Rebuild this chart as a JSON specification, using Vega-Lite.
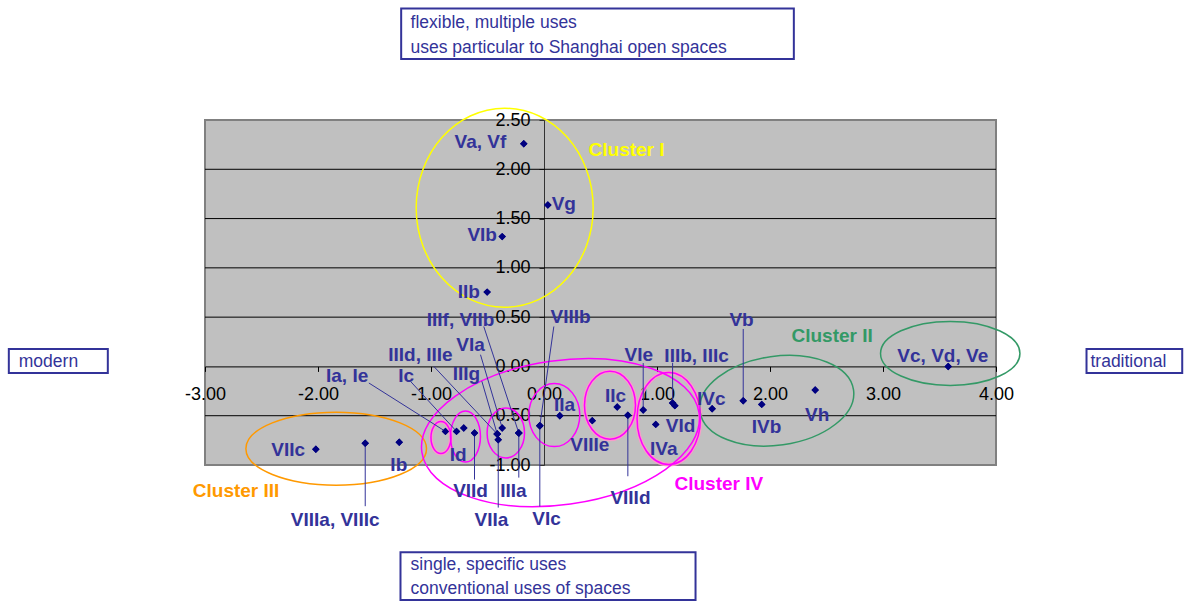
{
  "$schema": "https://vega.github.io/schema/vega-lite/v6.json",
  "width": 791,
  "height": 345,
  "autosize": "none",
  "padding": {"left": 205, "top": 120, "right": 188, "bottom": 137},
  "background": "white",
  "config": {
    "view": {"fill": "#c0c0c0", "stroke": "#808080", "strokeWidth": 2},
    "font": "Liberation Sans"
  },
  "datasets": {
    "points": [
      {"code": "Va, Vf", "x": -0.179, "y": 2.259, "lx": -0.562, "ly": 2.280},
      {"code": "Vg", "x": 0.034, "y": 1.638, "lx": 0.175, "ly": 1.648},
      {"code": "VIb", "x": -0.370, "y": 1.317, "lx": -0.547, "ly": 1.334},
      {"code": "IIb", "x": -0.503, "y": 0.754, "lx": -0.665, "ly": 0.760},
      {"code": "Vc, Vd, Ve", "x": 3.577, "y": 0.0, "lx": 3.529, "ly": 0.108},
      {"code": "Vh", "x": 2.400, "y": -0.239, "lx": 2.418, "ly": -0.489},
      {"code": "Vb", "x": 1.763, "y": -0.348, "lx": 1.748, "ly": 0.473, "ex": 1.763, "ey": 0.38},
      {"code": "IVb", "x": 1.927, "y": -0.385, "lx": 1.969, "ly": -0.614},
      {"code": "IVc", "x": 1.488, "y": -0.429, "lx": 1.480, "ly": -0.327},
      {"code": "IIIb, IIIc", "x": 1.138, "y": -0.371, "lx": 1.350, "ly": 0.108, "ex": 1.138, "ey": 0.037},
      {"code": "VId", "x": 1.158, "y": -0.398, "lx": 1.208, "ly": -0.608},
      {"code": "IVa", "x": 0.989, "y": -0.588, "lx": 1.060, "ly": -0.834},
      {"code": "VIe", "x": 0.878, "y": -0.442, "lx": 0.839, "ly": 0.119, "ex": 0.878, "ey": 0.034},
      {"code": "VIIId", "x": 0.742, "y": -0.496, "lx": 0.765, "ly": -1.333, "ex": 0.742, "ey": -1.114},
      {"code": "IIc", "x": 0.648, "y": -0.411, "lx": 0.633, "ly": -0.297},
      {"code": "VIIIe", "x": 0.427, "y": -0.550, "lx": 0.405, "ly": -0.793},
      {"code": "IIa", "x": 0.140, "y": -0.500, "lx": 0.181, "ly": -0.388},
      {"code": "VIIIb", "x": -0.037, "y": -0.601, "lx": 0.235, "ly": 0.501, "ex": 0.087, "ey": 0.405},
      {"code": "VIc", "x": -0.037, "y": -0.601, "lx": 0.022, "ly": -1.543, "ex": -0.037, "ey": -1.421},
      {"code": "IIIf, VIIb", "x": -0.223, "y": -0.675, "lx": -0.739, "ly": 0.466, "ex": -0.533, "ey": 0.405},
      {"code": "IIIa", "x": -0.223, "y": -0.675, "lx": -0.270, "ly": -1.259, "ex": -0.223, "ey": -1.128},
      {"code": "VIa", "x": -0.370, "y": -0.624, "lx": -0.650, "ly": 0.220, "ex": -0.562, "ey": 0.119},
      {"code": "IIIg", "x": -0.414, "y": -0.685, "lx": -0.686, "ly": -0.074, "ex": -0.55, "ey": -0.15},
      {"code": "VIIa", "x": -0.405, "y": -0.743, "lx": -0.465, "ly": -1.553, "ex": -0.405, "ey": -1.432},
      {"code": "IIId, IIIe", "x": -0.414, "y": -0.685, "lx": -1.093, "ly": 0.119, "ex": -0.975, "ey": 0.0},
      {"code": "VIId", "x": -0.615, "y": -0.675, "lx": -0.650, "ly": -1.259, "ex": -0.615, "ey": -1.148},
      {"code": "Id", "x": -0.710, "y": -0.624, "lx": -0.759, "ly": -0.895},
      {"code": "Ic", "x": -0.774, "y": -0.659, "lx": -1.219, "ly": -0.094, "ex": -1.181, "ey": -0.152},
      {"code": "Ia, Ie", "x": -0.872, "y": -0.659, "lx": -1.742, "ly": -0.094, "ex": -1.550, "ey": -0.168},
      {"code": "Ib", "x": -1.281, "y": -0.770, "lx": -1.285, "ly": -0.996},
      {"code": "VIIIa, VIIIc", "x": -1.582, "y": -0.780, "lx": -1.848, "ly": -1.563, "ex": -1.582, "ey": -1.418},
      {"code": "VIIc", "x": -2.019, "y": -0.841, "lx": -2.264, "ly": -0.851}
    ],
    "grid": [{"g": -0.5}, {"g": 0.5}, {"g": 1.0}, {"g": 1.5}, {"g": 2.0}],
    "ellipses": [
      {"id": "e1", "cluster": "I", "x": -0.348, "y": 1.610},
      {"id": "e2", "cluster": "II", "x": 3.595, "y": 0.132},
      {"id": "e3", "cluster": "II", "x": 2.060, "y": -0.348},
      {"id": "e4", "cluster": "III", "x": -1.839, "y": -0.834},
      {"id": "e5", "cluster": "IV", "x": 0.146, "y": -0.672},
      {"id": "e6", "cluster": "IV", "x": -0.912, "y": -0.722},
      {"id": "e7", "cluster": "IV", "x": -0.695, "y": -0.712},
      {"id": "e8", "cluster": "IV", "x": -0.338, "y": -0.675},
      {"id": "e9", "cluster": "IV", "x": 0.091, "y": -0.494},
      {"id": "e10", "cluster": "IV", "x": 0.584, "y": -0.393},
      {"id": "e11", "cluster": "IV", "x": 1.104, "y": -0.528}
    ],
    "clusters": [
      {"name": "Cluster I", "cluster": "I", "x": 0.394, "y": 2.193},
      {"name": "Cluster II", "cluster": "II", "x": 2.190, "y": 0.304},
      {"name": "Cluster III", "cluster": "III", "x": -3.108, "y": -1.266},
      {"name": "Cluster IV", "cluster": "IV", "x": 1.155, "y": -1.192}
    ],
    "boxes": [
      {"x": -1.264, "x2": 2.211, "y": 3.631, "y2": 3.118},
      {"x": -1.270, "x2": 1.341, "y": -1.885, "y2": -2.369},
      {"x": -4.736, "x2": -3.860, "y": 0.176, "y2": -0.067},
      {"x": 4.801, "x2": 5.648, "y": 0.176, "y2": -0.067}
    ],
    "boxtext": [
      {"t": "flexible, multiple uses", "x": -1.181, "y": 3.429},
      {"t": "uses particular to Shanghai open spaces", "x": -1.181, "y": 3.175},
      {"t": "single, specific uses", "x": -1.181, "y": -2.066},
      {"t": "conventional uses of spaces", "x": -1.181, "y": -2.313},
      {"t": "modern", "x": -4.648, "y": -0.01},
      {"t": "traditional", "x": 4.836, "y": -0.01}
    ]
  },
  "layer": [
    {
      "data": {"name": "grid"},
      "mark": {"type": "rule", "color": "black", "strokeWidth": 1},
      "encoding": {
        "y": {"field": "g", "type": "quantitative",
          "scale": {"domain": [-1, 2.5], "nice": false, "zero": false},
          "axis": {"values": [-1, -0.5, 0, 0.5, 1, 1.5, 2, 2.5], "offset": -339, "title": null, "grid": false,
            "domainColor": "#333333", "domainWidth": 1, "tickColor": "#333333", "tickSize": 5,
            "labelFontSize": 18, "labelColor": "black", "labelFont": "Liberation Sans", "labelPadding": 9,
            "labelOverlap": false, "labelFlush": false, "labelBaseline": "middle",
            "labelExpr": "replace(format(datum.value, '.2f'), '\u2212', '-')"}}
      }
    },
    {
      "data": {"name": "points"},
      "mark": {"type": "point", "shape": "diamond", "filled": true, "color": "#000080", "size": 55, "opacity": 1},
      "encoding": {
        "x": {"field": "x", "type": "quantitative",
          "scale": {"domain": [-3, 4], "nice": false, "zero": false},
          "axis": {"values": [-3, -2, -1, 0, 1, 2, 3, 4], "offset": -98.6, "title": null, "grid": false,
            "domainColor": "black", "domainWidth": 1, "tickColor": "black", "tickSize": 5,
            "labelFontSize": 18, "labelColor": "black", "labelFont": "Liberation Sans", "labelPadding": 14,
            "labelOverlap": false, "labelFlush": false,
            "labelExpr": "replace(format(datum.value, '.2f'), '\u2212', '-')"}},
        "y": {"field": "y", "type": "quantitative", "scale": {"domain": [-1, 2.5], "nice": false, "zero": false}}
      }
    },
    {
      "data": {"name": "ellipses"},
      "transform": [{"filter": {"field": "id", "oneOf": ["e6", "e10", "e11"]}}],
      "mark": {"type": "point", "filled": false, "size": 4, "strokeWidth": 4, "stroke": "#ff99cc", "opacity": 0.9},
      "encoding": {
        "x": {"field": "x", "type": "quantitative", "scale": {"domain": [-3, 4], "nice": false, "zero": false}},
        "y": {"field": "y", "type": "quantitative", "scale": {"domain": [-1, 2.5], "nice": false, "zero": false}},
        "shape": {"field": "id", "type": "nominal", "legend": null,
          "scale": {"domain": ["e1","e2","e3","e4","e5","e6","e7","e8","e9","e10","e11"],
            "range": [
              "M -88.5 0 A 88.5 99.5 0 1 0 88.5 0 A 88.5 99.5 0 1 0 -88.5 0 Z",
              "M -69.7 0 A 69.7 32 0 1 0 69.7 0 A 69.7 32 0 1 0 -69.7 0 Z",
              "M -76.75 10.79 A 77.5 44.5 -8 1 0 76.75 -10.79 A 77.5 44.5 -8 1 0 -76.75 10.79 Z",
              "M -90.3 0 A 90.3 36.5 0 1 0 90.3 0 A 90.3 36.5 0 1 0 -90.3 0 Z",
              "M -138.64 19.48 A 140 72 -8 1 0 138.64 -19.48 A 140 72 -8 1 0 -138.64 19.48 Z",
              "M -10 0 A 10 16 0 1 0 10 0 A 10 16 0 1 0 -10 0 Z",
              "M -15 0 A 15 25.5 0 1 0 15 0 A 15 25.5 0 1 0 -15 0 Z",
              "M -18.7 0 A 18.7 25 0 1 0 18.7 0 A 18.7 25 0 1 0 -18.7 0 Z",
              "M -25.5 0 A 25.5 31.5 0 1 0 25.5 0 A 25.5 31.5 0 1 0 -25.5 0 Z",
              "M -25.5 0 A 25.5 34 0 1 0 25.5 0 A 25.5 34 0 1 0 -25.5 0 Z",
              "M -31.7 0 A 31.7 46 0 1 0 31.7 0 A 31.7 46 0 1 0 -31.7 0 Z"
            ]}}
      }
    },
    {
      "data": {"name": "ellipses"},
      "mark": {"type": "point", "filled": false, "size": 4, "strokeWidth": 1.5, "opacity": 1},
      "encoding": {
        "x": {"field": "x", "type": "quantitative", "scale": {"domain": [-3, 4], "nice": false, "zero": false}},
        "y": {"field": "y", "type": "quantitative", "scale": {"domain": [-1, 2.5], "nice": false, "zero": false}},
        "shape": {"field": "id", "type": "nominal", "legend": null},
        "color": {"field": "cluster", "type": "nominal", "legend": null,
          "scale": {"domain": ["I", "II", "III", "IV"], "range": ["#ffff00", "#339966", "#ff9900", "#ff00ff"]}}
      }
    },
    {
      "data": {"name": "points"},
      "transform": [{"filter": "isValid(datum.ex)"}],
      "mark": {"type": "rule", "color": "#333399", "strokeWidth": 1},
      "encoding": {
        "x": {"field": "x", "type": "quantitative", "scale": {"domain": [-3, 4], "nice": false, "zero": false}},
        "y": {"field": "y", "type": "quantitative", "scale": {"domain": [-1, 2.5], "nice": false, "zero": false}},
        "x2": {"field": "ex"},
        "y2": {"field": "ey"}
      }
    },
    {
      "data": {"name": "points"},
      "mark": {"type": "point", "shape": "diamond", "filled": true, "color": "#000080", "size": 55, "opacity": 1},
      "encoding": {
        "x": {"field": "x", "type": "quantitative", "scale": {"domain": [-3, 4], "nice": false, "zero": false}},
        "y": {"field": "y", "type": "quantitative", "scale": {"domain": [-1, 2.5], "nice": false, "zero": false}}
      }
    },
    {
      "data": {"name": "points"},
      "mark": {"type": "text", "font": "Liberation Sans", "fontSize": 19, "fontWeight": "bold", "color": "#333399", "align": "center", "baseline": "middle"},
      "encoding": {
        "x": {"field": "lx", "type": "quantitative", "scale": {"domain": [-3, 4], "nice": false, "zero": false}},
        "y": {"field": "ly", "type": "quantitative", "scale": {"domain": [-1, 2.5], "nice": false, "zero": false}},
        "text": {"field": "code"}
      }
    },
    {
      "data": {"name": "clusters"},
      "mark": {"type": "text", "font": "Liberation Sans", "fontSize": 19, "fontWeight": "bold", "align": "left", "baseline": "middle"},
      "encoding": {
        "x": {"field": "x", "type": "quantitative", "scale": {"domain": [-3, 4], "nice": false, "zero": false}},
        "y": {"field": "y", "type": "quantitative", "scale": {"domain": [-1, 2.5], "nice": false, "zero": false}},
        "text": {"field": "name"},
        "color": {"field": "cluster", "type": "nominal", "legend": null}
      }
    },
    {
      "data": {"name": "boxes"},
      "mark": {"type": "rect", "fill": null, "fillOpacity": 0, "stroke": "#333399", "strokeWidth": 2},
      "encoding": {
        "x": {"field": "x", "type": "quantitative", "scale": {"domain": [-3, 4], "nice": false, "zero": false}},
        "x2": {"field": "x2"},
        "y": {"field": "y", "type": "quantitative", "scale": {"domain": [-1, 2.5], "nice": false, "zero": false}},
        "y2": {"field": "y2"}
      }
    },
    {
      "data": {"name": "boxtext"},
      "mark": {"type": "text", "font": "Liberation Sans", "fontSize": 17.5, "color": "#333399", "align": "left", "baseline": "alphabetic"},
      "encoding": {
        "x": {"field": "x", "type": "quantitative", "scale": {"domain": [-3, 4], "nice": false, "zero": false}},
        "y": {"field": "y", "type": "quantitative", "scale": {"domain": [-1, 2.5], "nice": false, "zero": false}},
        "text": {"field": "t"}
      }
    }
  ]
}
